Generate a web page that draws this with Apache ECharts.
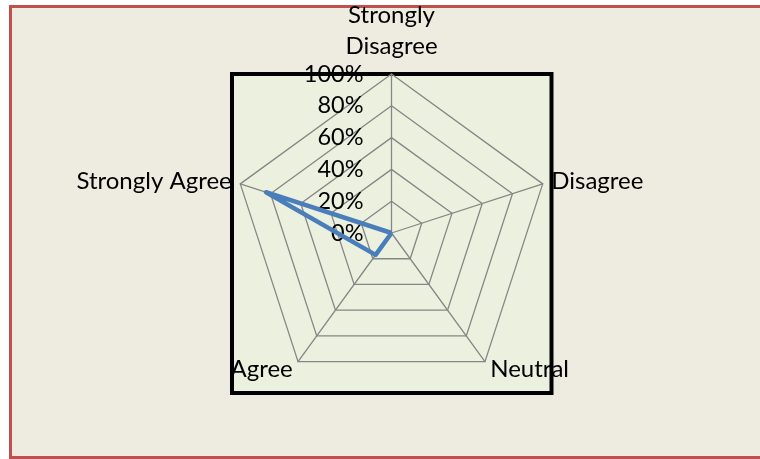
<!DOCTYPE html>
<html>
<head>
<meta charset="utf-8">
<script src="https://cdn.jsdelivr.net/npm/echarts@6/dist/echarts.min.js"></script>
<style>
  html, body { margin: 0; padding: 0; background: #fff; }
  #chart { width: 760px; height: 459px; }
</style>
</head>
<body>
<div id="chart"></div>
<script>
// indicators listed counterclockwise from the top (ECharts radar order)
const categories = ['Strongly\nDisagree', 'Strongly Agree', 'Agree', 'Neutral', 'Disagree']
const responses = [0, 83, 17, 0, 0]
const tickLabels = ['0%', '20%', '40%', '60%', '80%', '100%']

const font = 'Lato, "Open Sans", sans-serif'

const chart = echarts.init(document.getElementById('chart'))
const option = {
  animation: false,
  graphic: [
    {
      type: 'rect',
      z: -10,
      shape: { x: 10.5, y: 6.5, width: 800, height: 451 },
      style: { fill: '#EEECE1', stroke: '#C0504D', lineWidth: 3 }
    },
    {
      type: 'rect',
      z: -9,
      shape: { x: 232, y: 74, width: 319.5, height: 319 },
      style: { fill: '#EBF1DE', stroke: '#000', lineWidth: 4 }
    }
  ],
  radar: {
    center: [391.5, 233],
    radius: 159,
    shape: 'polygon',
    splitNumber: 5,
    startAngle: 90,
    nameGap: 9,
    axisName: {
      color: '#000',
      fontFamily: font,
      fontSize: 24,
      lineHeight: 31
    },
    splitArea: { show: false },
    splitLine: { lineStyle: { color: '#868686', width: 1.3 } },
    axisLine: { lineStyle: { color: '#868686', width: 1.3 } },
    axisTick: { show: false },
    indicator: categories.map((name, i) => ({
      name: name,
      min: 0,
      max: 100,
      axisLabel: i === 0 ? {
        show: true,
        color: '#000',
        fontFamily: font,
        fontSize: 23.5,
        margin: 28,
        formatter: (v) => tickLabels[Math.round(v / 20)]
      } : { show: false }
    }))
  },
  series: [
    {
      type: 'radar',
      symbol: 'none',
      lineStyle: { color: '#4A7EBB', width: 4.5 },
      data: [{ value: responses }]
    }
  ]
}
chart.setOption(option)
</script>
</body>
</html>
